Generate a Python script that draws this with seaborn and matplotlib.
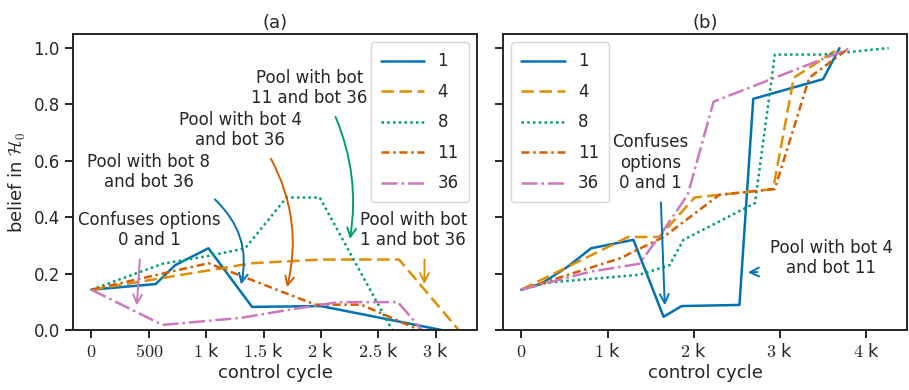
import matplotlib
matplotlib.use("Agg")
import matplotlib.pyplot as plt
import seaborn as sns
import pandas as pd

# ---------------- data ----------------
bots = ["1", "4", "8", "11", "36"]

# panel (a)
a1_x = [0, 560, 730, 1020, 1400, 2000, 3050]
a1_y = [0.143, 0.163, 0.23, 0.29, 0.082, 0.085, 0.0]
a4_x = [0, 1400, 2000, 2680, 3200]
a4_y = [0.143, 0.237, 0.25, 0.25, 0.0]
a8_x = [0, 620, 1050, 1340, 1700, 1990, 2620]
a8_y = [0.143, 0.235, 0.265, 0.29, 0.47, 0.47, 0.0]
a11_x = [0, 1020, 1950, 2350, 2860]
a11_y = [0.143, 0.237, 0.09, 0.09, 0.0]
a36_x = [0, 620, 1300, 1800, 2150, 2670, 2880]
a36_y = [0.143, 0.018, 0.043, 0.077, 0.099, 0.099, 0.0]

# panel (b)
b1_x = [0, 240, 540, 810, 1300, 1650, 1860, 2530, 2690, 3500, 3690]
b1_y = [0.143, 0.166, 0.225, 0.29, 0.32, 0.047, 0.085, 0.089, 0.82, 0.89, 1.0]
b4_x = [0, 1240, 1600, 2010, 2920, 3160, 3690]
b4_y = [0.143, 0.33, 0.33, 0.47, 0.50, 0.895, 1.0]
b8_x = [0, 300, 1370, 1720, 1880, 2710, 2940, 3500, 4260]
b8_y = [0.143, 0.168, 0.196, 0.23, 0.32, 0.45, 0.977, 0.977, 1.0]
b11_x = [0, 1150, 1650, 2300, 2940, 3340, 3800]
b11_y = [0.143, 0.255, 0.33, 0.48, 0.50, 0.895, 1.0]
b36_x = [0, 800, 1370, 1630, 1930, 2230, 3820]
b36_y = [0.143, 0.207, 0.235, 0.345, 0.48, 0.81, 1.0]

a_xticks = [0, 500, 1000, 1500, 2000, 2500, 3000]
a_xticklabels = ["$0$", "$500$", "$1$ k", "$1.5$ k", "$2$ k", "$2.5$ k", "$3$ k"]
b_xticks = [0, 1000, 2000, 3000, 4000]
b_xticklabels = ["$0$", "$1$ k", "$2$ k", "$3$ k", "$4$ k"]
yticks = [0.0, 0.2, 0.4, 0.6, 0.8, 1.0]
yticklabels = ["0.0", "0.2", "0.4", "0.6", "0.8", "1.0"]

# ---------------- style ----------------
sns.set_theme(style="ticks")
plt.rcParams["font.family"] = ["DejaVu Sans"]
plt.rcParams["mathtext.fontset"] = "cm"

palette = sns.color_palette("colorblind")
colors = {"1": palette[0], "4": palette[1], "8": palette[2], "11": palette[3], "36": palette[4]}
styles = {"1": "-", "4": (0, (5, 2.2)), "8": (0, (1, 1.3)),
          "11": (0, (3.2, 1.5, 1, 1.5)), "36": (0, (6.4, 1.6, 1, 1.6))}


def frame(xs, ys):
    rows = []
    for b, x, y in zip(bots, xs, ys):
        rows.append(pd.DataFrame({"cycle": x, "belief": y, "bot": b}))
    return pd.concat(rows, ignore_index=True)


df_a = frame([a1_x, a4_x, a8_x, a11_x, a36_x], [a1_y, a4_y, a8_y, a11_y, a36_y])
df_b = frame([b1_x, b4_x, b8_x, b11_x, b36_x], [b1_y, b4_y, b8_y, b11_y, b36_y])

fig, axes = plt.subplots(1, 2, figsize=(9.09, 3.9), dpi=100, sharey=True)
fig.subplots_adjust(left=0.0803, right=0.9978, top=0.9128, bottom=0.1538, wspace=0.064)

for ax, df in zip(axes, [df_a, df_b]):
    for b in bots:
        sub = df[df["bot"] == b]
        sns.lineplot(data=sub, x="cycle", y="belief", ax=ax, color=colors[b],
                     linestyle=styles[b], linewidth=1.8, label=b,
                     estimator=None, sort=False)
    ax.set_xlabel("control cycle", fontsize=13, labelpad=2)
    for s in ax.spines.values():
        s.set_color("#262626")
        s.set_linewidth(1.4)
    ax.tick_params(axis="both", labelsize=12, length=6, width=1.4, color="#262626")
    ax.tick_params(axis="x", labelsize=13)

axes[0].set_ylim(0, 1.05)
axes[0].set_yticks(yticks)
axes[0].set_yticklabels(yticklabels)
axes[0].set_ylabel(r"belief in $\mathcal{H}_0$", fontsize=13)
axes[0].set_xticks(a_xticks)
axes[0].set_xticklabels(a_xticklabels)
axes[1].set_xticks(b_xticks)
axes[1].set_xticklabels(b_xticklabels)
axes[1].set_ylabel("")
axes[0].set_title("(a)", fontsize=13, pad=4)
axes[1].set_title("(b)", fontsize=13, pad=4)

leg_kw = dict(fontsize=12, handlelength=2.6, labelspacing=0.75, borderpad=0.6,
              frameon=True, fancybox=True)
axes[0].legend(loc="upper right", **leg_kw)
axes[1].legend(loc="upper left", **leg_kw)

# ---------------- annotations ----------------
def note(ax, text, txy, tail, head, color, rad=0.0):
    ax.text(txy[0], txy[1], text, ha="center", va="center", fontsize=12,
            color="#262626", linespacing=1.15)
    ax.annotate("", xy=head, xytext=tail,
                arrowprops=dict(arrowstyle="->", color=color, lw=1.4,
                                mutation_scale=16,
                                connectionstyle=f"arc3,rad={rad}"))

ax = axes[0]
note(ax, "Pool with bot\n11 and bot 36", (1900, 0.858), (2118, 0.765), (2248, 0.313), colors["8"], -0.15)
note(ax, "Pool with bot 4\nand bot 36", (1298, 0.708), (1553, 0.616), (1698, 0.142), colors["11"], -0.2)
note(ax, "Pool with bot 8\nand bot 36", (502, 0.559), (1058, 0.470), (1298, 0.152), colors["1"], -0.3)
note(ax, "Confuses options\n0 and 1", (502, 0.356), (424, 0.26), (394, 0.077), colors["36"], 0.0)
note(ax, "Pool with bot\n1 and bot 36", (2805, 0.356), (2903, 0.26), (2900, 0.153), colors["4"], 0.0)

ax = axes[1]
note(ax, "Confuses\noptions\n0 and 1", (1498, 0.594), (1618, 0.463), (1665, 0.078), colors["1"], 0.0)
note(ax, "Pool with bot 4\nand bot 11", (3594, 0.256), (2771, 0.206), (2596, 0.204), colors["1"], 0.0)

fig.savefig("out.png", dpi=100)
